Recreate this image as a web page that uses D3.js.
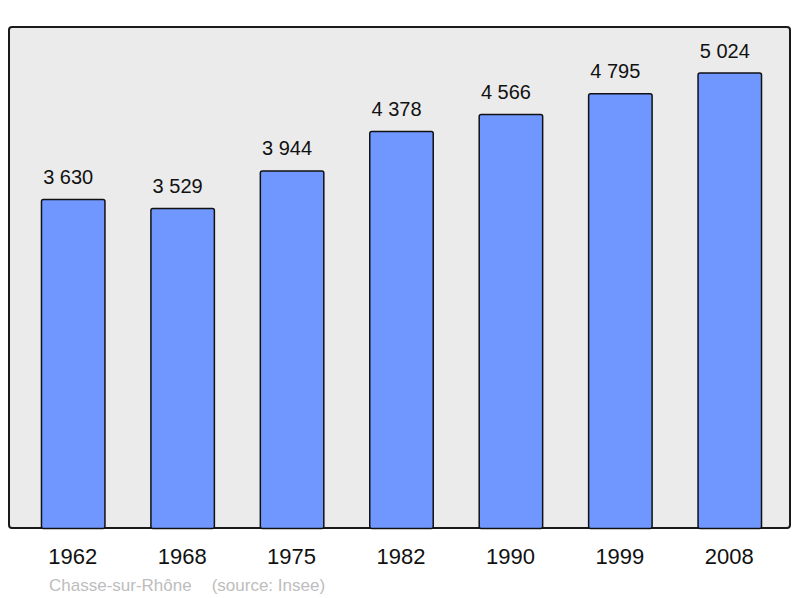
<!DOCTYPE html>
<html><head><meta charset="utf-8">
<script src="https://cdn.jsdelivr.net/npm/d3@7/dist/d3.min.js"></script>
<style>body{margin:0;background:#fff}svg{display:block}</style>
</head><body>
<script>
const years = ["1962","1968","1975","1982","1990","1999","2008"];
const population = [3630,3529,3944,4378,4566,4795,5024];
const footerName = "Chasse-sur-Rhône";
const footerSource = "(source: Insee)";

const W=800,H=598;
const svg=d3.select("body").append("svg").attr("width",W).attr("height",H);
const frame={x0:9,y0:27,x1:790,y1:528};
svg.append("rect").attr("x",frame.x0).attr("y",frame.y0)
  .attr("width",frame.x1-frame.x0).attr("height",frame.y1-frame.y0)
  .attr("rx",3).attr("fill","#ebebeb").attr("stroke","#1a1a1a").attr("stroke-width",2);

const x=d3.scaleBand().domain(years).range([18,784]).paddingInner(0.42).paddingOuter(0.21);
const y=d3.scaleLinear().domain([0,d3.max(population)*1.1]).range([frame.y1,frame.y0]);
const fmt=v=>d3.format(",")(v).replace(/,/g," ");

const data=years.map((yr,i)=>({yr,v:population[i]}));
svg.selectAll("rect.bar").data(data).enter().append("rect").attr("class","bar")
  .attr("x",d=>x(d.yr)+0.5).attr("y",d=>y(d.v)+0.5)
  .attr("width",x.bandwidth()).attr("height",d=>frame.y1-y(d.v))
  .attr("rx",2).attr("fill","#7097ff").attr("stroke","#111").attr("stroke-width",1.5);

svg.selectAll("text.val").data(data).enter().append("text").attr("class","val")
  .attr("x",d=>x(d.yr)+x.bandwidth()/2-4.5).attr("y",d=>y(d.v)-15)
  .attr("text-anchor","middle").attr("font-family","Liberation Sans, Arial, sans-serif")
  .attr("font-size",20).attr("fill","#111").text(d=>fmt(d.v));

const xAxis=d3.axisBottom(x).tickSize(0).tickPadding(0);
const ax=svg.append("g").attr("transform",`translate(0,${frame.y1})`).call(xAxis);
ax.select(".domain").remove();
ax.selectAll("text").attr("font-family","Liberation Sans, Arial, sans-serif")
  .attr("font-size",22).attr("fill","#111").attr("dy",null).attr("y",36);

const ft=svg.append("text").attr("x",49).attr("y",591)
  .attr("font-family","Liberation Sans, Arial, sans-serif").attr("font-size",17).attr("fill","#bdbdbd");
ft.append("tspan").text(footerName);
ft.append("tspan").attr("dx",20).text(footerSource);
</script>
</body></html>
